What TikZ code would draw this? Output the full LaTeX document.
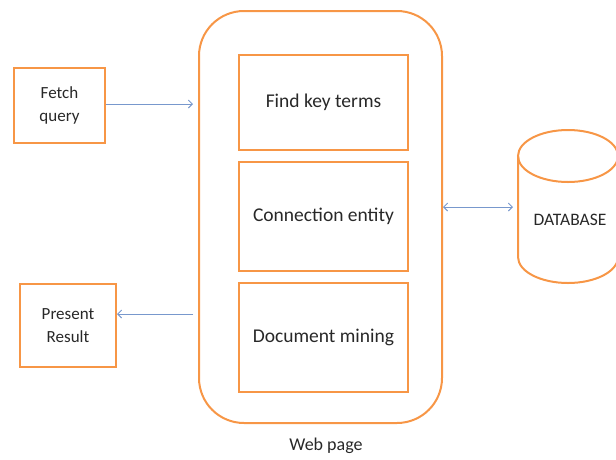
\documentclass[tikz,border=0pt]{standalone}
\usepackage{fontspec}
\setmainfont{Carlito}
\usetikzlibrary{arrows.meta,shapes.geometric}
\definecolor{boxorange}{RGB}{247,150,70}
\definecolor{linkblue}{RGB}{120,152,205}
\definecolor{txt}{RGB}{40,40,40}
\tikzset{
  frame/.style={draw=boxorange,line width=2pt,text=txt,align=center,inner sep=0pt},
  stagefont/.style={font=\fontsize{19.5}{22}\selectfont},
  sidefont/.style={font=\fontsize{17}{23}\selectfont},
  link/.style={draw=linkblue,line width=0.9pt,-{Straight Barb[length=4pt,width=8pt]}},
  biglink/.style={draw=linkblue,line width=0.9pt,{Straight Barb[length=4pt,width=8pt]}-{Straight Barb[length=4pt,width=8pt]}}
}
\begin{document}
\begin{tikzpicture}[x=1pt,y=-1pt]
\useasboundingbox (0,0) rectangle (616,459);
% outer web page container
\node[frame,rounded corners=45pt,minimum width=243pt,minimum height=412pt,anchor=north west] (web) at (198,10) {};
\node[text=txt,font=\fontsize{18}{20}\selectfont] (weblabel) at (326,446) {Web page};
% inner processing stages
\node[frame,stagefont,minimum width=169pt,minimum height=95pt,anchor=north west] (find) at (238,54) {Find key terms};
\node[frame,stagefont,minimum width=169pt,minimum height=109pt,anchor=north west] (conn) at (238,161) {Connection entity};
\node[frame,stagefont,minimum width=169pt,minimum height=109pt,anchor=north west] (mine) at (238,282) {Document mining};
% side boxes
\node[frame,sidefont,minimum width=91pt,minimum height=75pt,anchor=north west] (fetch) at (13,67) {Fetch\\query};
\node[frame,sidefont,minimum width=96pt,minimum height=83pt,anchor=north west] (present) at (19,283) {Present\\Result};
% database cylinder
\begin{scope}[draw=boxorange,line width=2pt]
  \draw (518,156) -- (518,257) arc[start angle=180,end angle=0,x radius=50,y radius=26] -- (618,156);
  \draw (568,156) ellipse [x radius=50,y radius=26];
\end{scope}
\node[text=txt,font=\fontsize{17.5}{20}\selectfont] (db) at (570,220) {DATABASE};
\coordinate (dbin) at (513,207);
% connectors
\draw[link] (fetch.east |- 0,104) -- (193,104);
\draw[link] (193,314) -- (present.east |- 0,314);
\draw[biglink] (web.east |- 0,207) -- (dbin);
\end{tikzpicture}
\end{document}
